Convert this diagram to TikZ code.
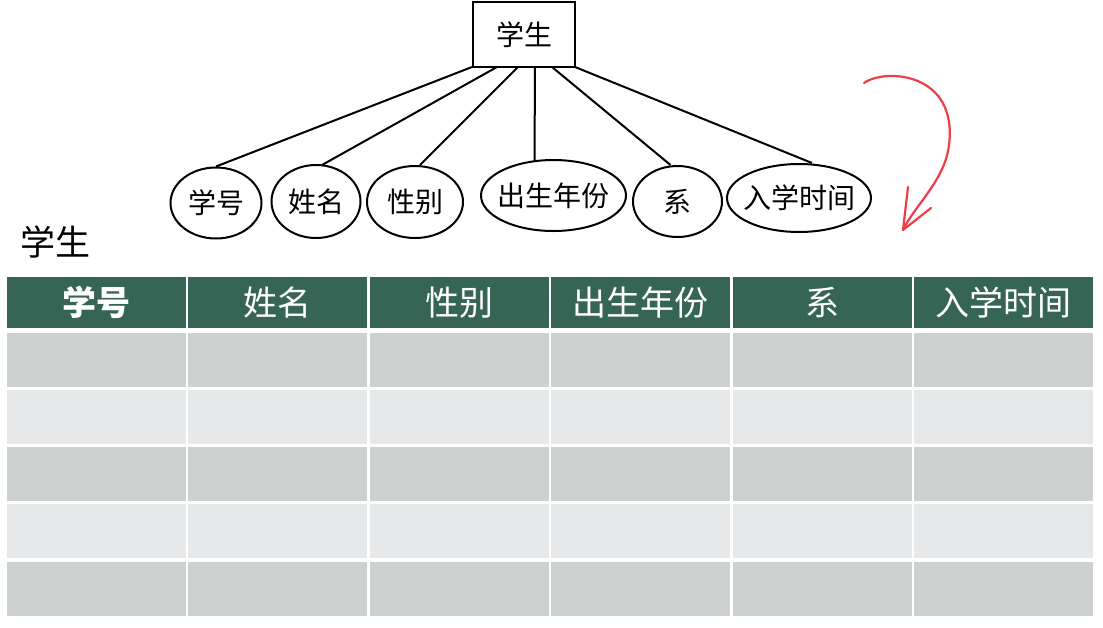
\documentclass[tikz,border=0pt]{standalone}
\usepackage{fontspec}
\setmainfont{Noto Sans CJK SC}
\newfontfamily\cjk{Noto Sans CJK SC}
\usetikzlibrary{shapes.geometric,calc}
\definecolor{hdr}{RGB}{54,101,86}
\definecolor{rowA}{RGB}{205,209,208}
\definecolor{rowB}{RGB}{231,232,233}
\definecolor{redpen}{RGB}{238,62,72}
\tikzset{
  ent/.style={draw, line width=2pt, minimum width=102pt, minimum height=65pt, inner sep=0pt, font=\cjk\fontsize{28}{30}\selectfont},
  attr/.style={draw, ellipse, line width=2pt, inner sep=-6pt, font=\cjk\fontsize{28}{30}\selectfont},
  link/.style={line width=2pt},
  hcell/.style={fill=hdr, text=white, minimum width=179pt, minimum height=51pt, inner sep=0pt, font=\cjk\fontsize{34}{36}\selectfont},
  cellA/.style={fill=rowA, minimum width=179pt, minimum height=54pt, inner sep=0pt},
  cellB/.style={fill=rowB, minimum width=179pt, minimum height=54pt, inner sep=0pt},
}
\begin{document}
\begin{tikzpicture}[x=1pt,y=-1pt]
\useasboundingbox (0,0) rectangle (1103,627);
\fill[white] (0,0) rectangle (1103,627);
% entity
\node[ent] (stu) at (524,34.5) {学生};
% attributes
\node[attr, minimum width=91pt, minimum height=71pt] (a1) at (216,203) {学号};
\node[attr, minimum width=89pt, minimum height=73pt] (a2) at (316,201.5) {姓名};
\node[attr, minimum width=96pt, minimum height=72pt] (a3) at (415,202) {性别};
\node[attr, minimum width=145pt, minimum height=71pt] (a4) at (553.5,195.5) {出生年份};
\node[attr, minimum width=89pt, minimum height=71pt] (a5) at (677.5,201.5) {系};
\node[attr, minimum width=144pt, minimum height=68pt] (a6) at (799,198) {入学时间};
% anchor points on entity bottom
\coordinate (s1) at (472,67);
\coordinate (s2) at (497,67);
\coordinate (s3) at (518,67);
\coordinate (s4) at (535,67);
\coordinate (s5) at (552,67);
\coordinate (s6) at (575,67);
\draw[link] (s1) -- (a1.north);
\draw[link] (s2) -- ($(a2.north)+(6,1)$);
\draw[link] (s3) -- ($(a3.north)+(5,0)$);
\draw[link] (s4) -- ($(a4.north)+(-19,2)$);
\draw[link] (s5) -- ($(a5.north)+(-7,0)$);
\draw[link] (s6) -- ($(a6.north)+(13,0)$);
% red hand-drawn arrow
\coordinate (r0) at (864,83);
\coordinate (r1) at (903,230);
\coordinate (h1) at (908,187);
\coordinate (h2) at (931,208);
\draw[redpen, line width=2.2pt, line cap=round] (r0) .. controls (885,68) and (958,72) .. (949,145) .. controls (945,180) and (915,205) .. (r1);
\draw[redpen, line width=2.2pt, line cap=round, line join=round] (h1) -- (r1) -- (h2);
% title
\node[anchor=west, font=\cjk\fontsize{35}{37}\selectfont, inner sep=0pt] (title) at (20,242) {学生};
% table
\foreach \i/\t [count=\c from 0] in {1/{\textbf{学号}},2/姓名,3/性别,4/出生年份,5/系,6/入学时间}{
  \node[hcell] (h\i) at ({96.5+\c*181.4},302.5) {\t};
  \node[cellA] (c1\i) at ({96.5+\c*181.4},360) {};
  \node[cellB] (c2\i) at ({96.5+\c*181.4},417) {};
  \node[cellA] (c3\i) at ({96.5+\c*181.4},474) {};
  \node[cellB] (c4\i) at ({96.5+\c*181.4},531) {};
  \node[cellA] (c5\i) at ({96.5+\c*181.4},588.5) {};
}
\end{tikzpicture}
\end{document}
